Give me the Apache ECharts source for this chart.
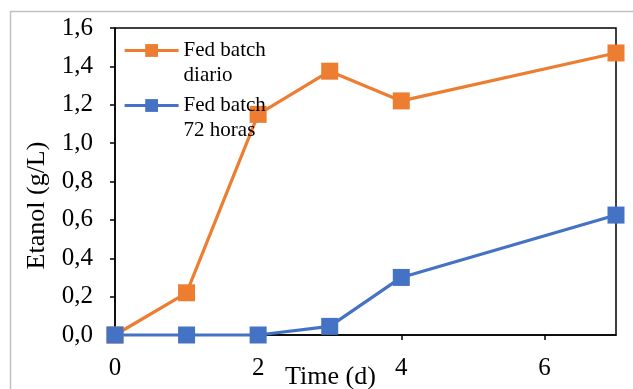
<!DOCTYPE html>
<html>
<head>
<meta charset="utf-8">
<script src="https://cdn.jsdelivr.net/npm/echarts@6/dist/echarts.min.js"></script>
<style>
html,body{margin:0;padding:0;background:#fff;}
#main{width:633px;height:389px;}
</style>
</head>
<body>
<div id="main"></div>
<script>
const days = [0, 1, 2, 3, 4, 7];
const fedBatchDiario = [0, 0.22, 1.15, 1.375, 1.22, 1.47];
const fedBatch72 = [0, 0, 0, 0.045, 0.30, 0.625];
const xTicks = [0, 2, 4, 6];
const seriesNames = ['Fed batch\ndiario', 'Fed batch\n72 horas'];

const font = 'Liberation Serif, Times New Roman, serif';
const chart = echarts.init(document.getElementById('main'));
chart.setOption({
  animation: false,
  textStyle: { fontFamily: font },
  graphic: [{
    type: 'rect',
    shape: { x: 10.5, y: 11.5, width: 640, height: 400 },
    style: { fill: 'none', stroke: '#c0c0c0', lineWidth: 1.5 },
    silent: true
  }],
  grid: { left: 115, top: 28, right: 17, bottom: 54, show: true, borderColor: '#000', borderWidth: 1.5, containLabel: false, outerBoundsMode: 'none' },
  legend: {
    left: 123, top: 13, orient: 'vertical', padding: 0,
    itemWidth: 54, itemHeight: 16, itemGap: -20,
    lineStyle: { width: 3.2 },
    formatter: name => ' \n' + name,
    textStyle: { fontFamily: font, fontSize: 21, color: '#000', lineHeight: 25 },
    data: seriesNames
  },
  xAxis: {
    type: 'value', min: 0, max: 7, interval: 1,
    name: 'Time (d)', nameLocation: 'middle', nameGap: 29, nameMoveOverlap: false,
    nameTextStyle: { fontFamily: font, fontSize: 26, color: '#000', padding: [0, 70, 0, 0] },
    axisLine: { lineStyle: { color: '#000', width: 1.5 } },
    axisTick: { show: true, length: 5, lineStyle: { color: '#000', width: 1.5 }, customValues: xTicks },
    axisLabel: { fontFamily: font, fontSize: 25, color: '#000', margin: 21, customValues: xTicks },
    splitLine: { show: false }
  },
  yAxis: {
    type: 'value', min: 0, max: 1.6, interval: 0.2,
    name: 'Etanol (g/L)', nameLocation: 'middle', nameGap: 65, nameMoveOverlap: false,
    nameTextStyle: { fontFamily: font, fontSize: 26, color: '#000', padding: [0, 48, 0, 0] },
    axisLine: { show: true, lineStyle: { color: '#000', width: 1.5 } },
    axisTick: { show: true, length: 5, lineStyle: { color: '#000', width: 1.5 } },
    axisLabel: { fontFamily: font, fontSize: 25, color: '#000', margin: 22,
      formatter: v => v.toFixed(1).replace('.', ',') },
    splitLine: { show: false }
  },
  series: [
    {
      name: seriesNames[0], type: 'line',
      data: days.map((d, i) => [d, fedBatchDiario[i]]),
      symbol: 'rect', symbolSize: 17,
      itemStyle: { color: '#ED7D31' },
      lineStyle: { color: '#ED7D31', width: 3.2 },
      clip: false
    },
    {
      name: seriesNames[1], type: 'line',
      data: days.map((d, i) => [d, fedBatch72[i]]),
      symbol: 'rect', symbolSize: 17,
      itemStyle: { color: '#4472C4' },
      lineStyle: { color: '#4472C4', width: 3.2 },
      clip: false
    }
  ]
});
</script>
</body>
</html>
